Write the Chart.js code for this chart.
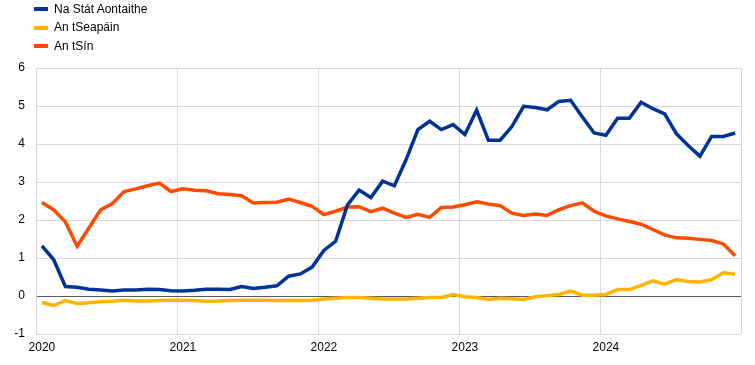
<!DOCTYPE html>
<html>
<head>
<meta charset="utf-8">
<script src="https://cdn.jsdelivr.net/npm/chart.js@4/dist/chart.umd.min.js"></script>
<style>
  body { margin: 0; background: #fff; font-family: "Liberation Sans", Arial, sans-serif; }
  #wrap { position: relative; width: 755px; height: 365px; }
  #legend { position: absolute; left: 34px; top: 0; font-size: 12px; color: #000; }
  #legend div { height: 18.5px; line-height: 15px; display: flex; align-items: center; }
  #legend span.mark { display: inline-block; width: 14px; height: 4px; margin-right: 6px; }
</style>
</head>
<body>
<div id="wrap">
  <div id="legend"></div>
  <canvas id="chart" width="755" height="365"></canvas>
</div>
<script>
const years = ['2020', '2021', '2022', '2023', '2024'];
const months = [];
years.forEach(y => { for (let m = 1; m <= 12; m++) months.push(y + '-' + String(m).padStart(2, '0')); });

const seriesNames = ['Na Stát Aontaithe', 'An tSeapáin', 'An tSín'];
const seriesColors = ['#003399', '#ffb400', '#ff4b00'];

const usa = [
  1.32, 0.96, 0.25, 0.23, 0.18, 0.16, 0.13, 0.16, 0.16, 0.18,
  0.17, 0.14, 0.13, 0.15, 0.18, 0.18, 0.17, 0.25, 0.20, 0.23,
  0.27, 0.52, 0.58, 0.76, 1.20, 1.44, 2.39, 2.79, 2.59, 3.02,
  2.90, 3.59, 4.38, 4.60, 4.38, 4.51, 4.25, 4.89, 4.10, 4.10,
  4.46, 4.99, 4.96, 4.90, 5.12, 5.15, 4.71, 4.29, 4.23, 4.68,
  4.68, 5.10, 4.93, 4.79, 4.27, 3.96, 3.68, 4.20, 4.20, 4.29
];
const japan = [
  -0.17, -0.25, -0.12, -0.20, -0.18, -0.15, -0.14, -0.11, -0.13, -0.13,
  -0.12, -0.11, -0.11, -0.12, -0.14, -0.13, -0.12, -0.11, -0.11, -0.11,
  -0.12, -0.11, -0.12, -0.11, -0.08, -0.06, -0.04, -0.04, -0.06, -0.08,
  -0.08, -0.08, -0.06, -0.04, -0.04, 0.04, -0.02, -0.04, -0.09, -0.06,
  -0.07, -0.09, -0.02, 0.01, 0.04, 0.13, 0.02, 0.02, 0.04, 0.17,
  0.17, 0.28, 0.40, 0.31, 0.43, 0.38, 0.37, 0.43, 0.61, 0.57
];
const china = [
  2.46, 2.27, 1.95, 1.31, 1.79, 2.27, 2.43, 2.75, 2.82, 2.90,
  2.97, 2.75, 2.82, 2.78, 2.77, 2.69, 2.67, 2.64, 2.45, 2.46,
  2.47, 2.55, 2.46, 2.36, 2.14, 2.23, 2.34, 2.35, 2.22, 2.31,
  2.18, 2.07, 2.15, 2.07, 2.33, 2.34, 2.40, 2.48, 2.42, 2.38,
  2.18, 2.12, 2.16, 2.12, 2.27, 2.38, 2.45, 2.23, 2.11, 2.03,
  1.96, 1.89, 1.75, 1.61, 1.53, 1.52, 1.49, 1.46, 1.37, 1.06
];
const yTicks = [-1, 0, 1, 2, 3, 4, 5, 6];

const values = [usa, japan, china];

const legend = document.getElementById('legend');
seriesNames.forEach((name, i) => {
  const row = document.createElement('div');
  row.innerHTML = '<span class="mark" style="background:' + seriesColors[i] + '"></span>' + name;
  legend.appendChild(row);
});

const ctx = document.getElementById('chart').getContext('2d');

new Chart(ctx, {
  type: 'line',
  data: {
    labels: months,
    datasets: seriesNames.map((name, i) => ({
      label: name,
      data: values[i],
      borderColor: seriesColors[i],
      backgroundColor: seriesColors[i],
      borderWidth: 3.5,
      pointRadius: 0,
      tension: 0,
      order: i === 0 ? 0 : (i === 1 ? 2 : 1)
    }))
  },
  options: {
    responsive: false,
    animation: false,
    layout: { padding: { top: 68, right: 14, bottom: 0, left: 0 } },
    plugins: {
      legend: { display: false },
      tooltip: { enabled: false }
    },
    scales: {
      x: {
        type: 'category',
        offset: true,
        grid: {
          offset: true,
          drawTicks: false,
          // year boundaries, plus the closing line on the right (scale context has no tick)
          color: c => (c.type !== 'tick' || c.index % 12 === 0 ? '#d9d9d9' : 'transparent'),
          lineWidth: 1
        },
        border: { display: false },
        ticks: {
          autoSkip: false,
          maxRotation: 0,
          padding: 6,
          color: '#000',
          font: { family: 'Liberation Sans', size: 12 },
          callback: (v, i) => (i % 12 === 0 ? months[i].slice(0, 4) : '')
        },
        afterFit: s => { s.height = 31; }
      },
      y: {
        min: -1,
        max: 6,
        afterBuildTicks: s => { s.ticks = yTicks.map(v => ({ value: v })); },
        grid: {
          drawTicks: false,
          color: c => (c.tick && c.tick.value === 0 ? '#595959' : '#d9d9d9'),
          lineWidth: 1
        },
        border: { display: true, color: '#d9d9d9' },
        ticks: {
          padding: 11,
          color: '#000',
          font: { family: 'Liberation Sans', size: 12 }
        },
        afterFit: s => { s.width = 36; }
      }
    }
  }
});
</script>
</body>
</html>
